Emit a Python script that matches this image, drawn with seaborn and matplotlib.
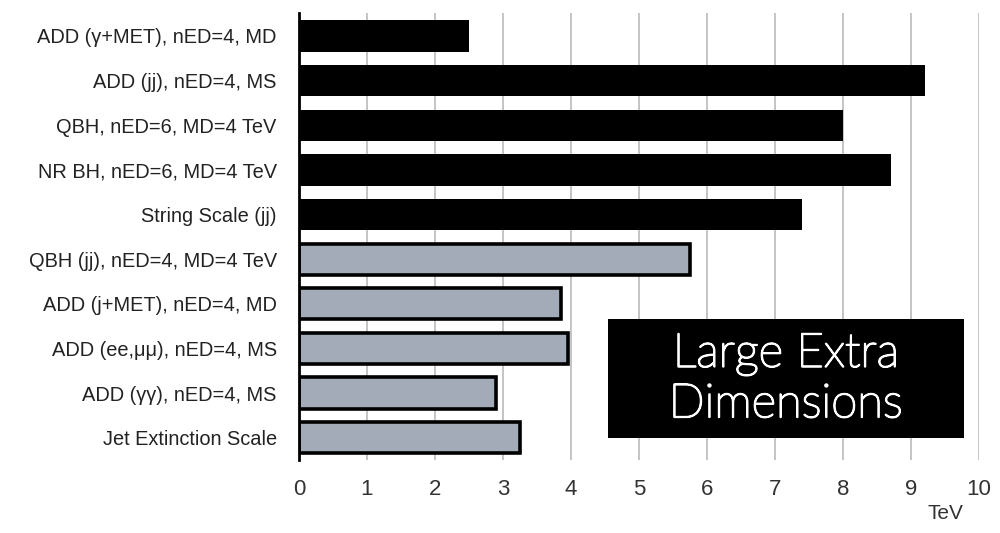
import matplotlib
matplotlib.use("Agg")
import matplotlib.pyplot as plt
import matplotlib.patheffects as pe
import seaborn as sns
import pandas as pd

# Lower limits on the mass scale (TeV) for large extra dimension models
models = [
    "ADD (\u03b3+MET), nED=4, MD",
    "ADD (jj), nED=4, MS",
    "QBH, nED=6, MD=4 TeV",
    "NR BH, nED=6, MD=4 TeV",
    "String Scale (jj)",
    "QBH (jj), nED=4, MD=4 TeV",
    "ADD (j+MET), nED=4, MD",
    "ADD (ee,\u03bc\u03bc), nED=4, MS",
    "ADD (\u03b3\u03b3), nED=4, MS",
    "Jet Extinction Scale",
]
limits_tev = [2.5, 9.2, 8.0, 8.7, 7.4, 5.75, 3.85, 3.95, 2.9, 3.25]
dataset = ["new", "new", "new", "new", "new", "old", "old", "old", "old", "old"]
x_ticks = [0, 1, 2, 3, 4, 5, 6, 7, 8, 9, 10]

fill_colors = {"new": "#000000", "old": "#a3abb8"}

sns.set_theme(style="white")
plt.rcParams["font.family"] = ["Liberation Sans", "DejaVu Sans"]

df = pd.DataFrame({"model": models, "limit": limits_tev, "dataset": dataset})

fig = plt.figure(figsize=(10, 5.33), dpi=100)
ax = fig.add_axes([0.299, 0.137, 0.68, 0.839])

sns.barplot(
    data=df, x="limit", y="model", hue="model", order=models,
    palette=[fill_colors[d] for d in dataset], legend=False,
    orient="h", width=0.7, ax=ax, saturation=1,
)

for patch, d in zip(ax.patches, dataset):
    if d == "old":
        patch.set_edgecolor("#000000")
        patch.set_linewidth(2.6)
    else:
        patch.set_edgecolor("none")

ax.set_xlim(0, 10)
ax.set_ylim(len(models) - 0.5, -0.52)
ax.set_xticks(x_ticks)
ax.set_xticklabels([str(t) for t in x_ticks], fontsize=16, color="#333333")
ax.tick_params(axis="x", length=0, pad=14)
ax.tick_params(axis="y", length=0, pad=16, labelsize=14.4, labelcolor="#222222")
ax.set_ylabel("")
ax.set_xlabel("")

ax.set_axisbelow(True)
ax.xaxis.grid(True, color="#c4c4c4", linewidth=1.4)
ax.yaxis.grid(False)
for side in ["top", "right", "bottom"]:
    ax.spines[side].set_visible(False)
ax.spines["left"].set_color("#000000")
ax.spines["left"].set_linewidth(2.0)

ax.text(0.95, -0.12, "TeV", transform=ax.transAxes, ha="center", va="center",
        fontsize=15, color="#333333")

# Title box inside the plotting area
box = plt.Rectangle((0.454, 0.05), 0.524, 0.266, transform=ax.transAxes,
                    facecolor="#000000", edgecolor="none", zorder=5)
ax.add_patch(box)
ax.text(0.716, 0.18, "Large Extra\nDimensions", transform=ax.transAxes,
        ha="center", va="center", color="white", fontsize=34,
        family=["Lato", "DejaVu Sans"], fontweight="light",
        linespacing=1.22, zorder=6,
        path_effects=[pe.withStroke(linewidth=1.3, foreground="white")])

fig.savefig("out.png", dpi=100)
